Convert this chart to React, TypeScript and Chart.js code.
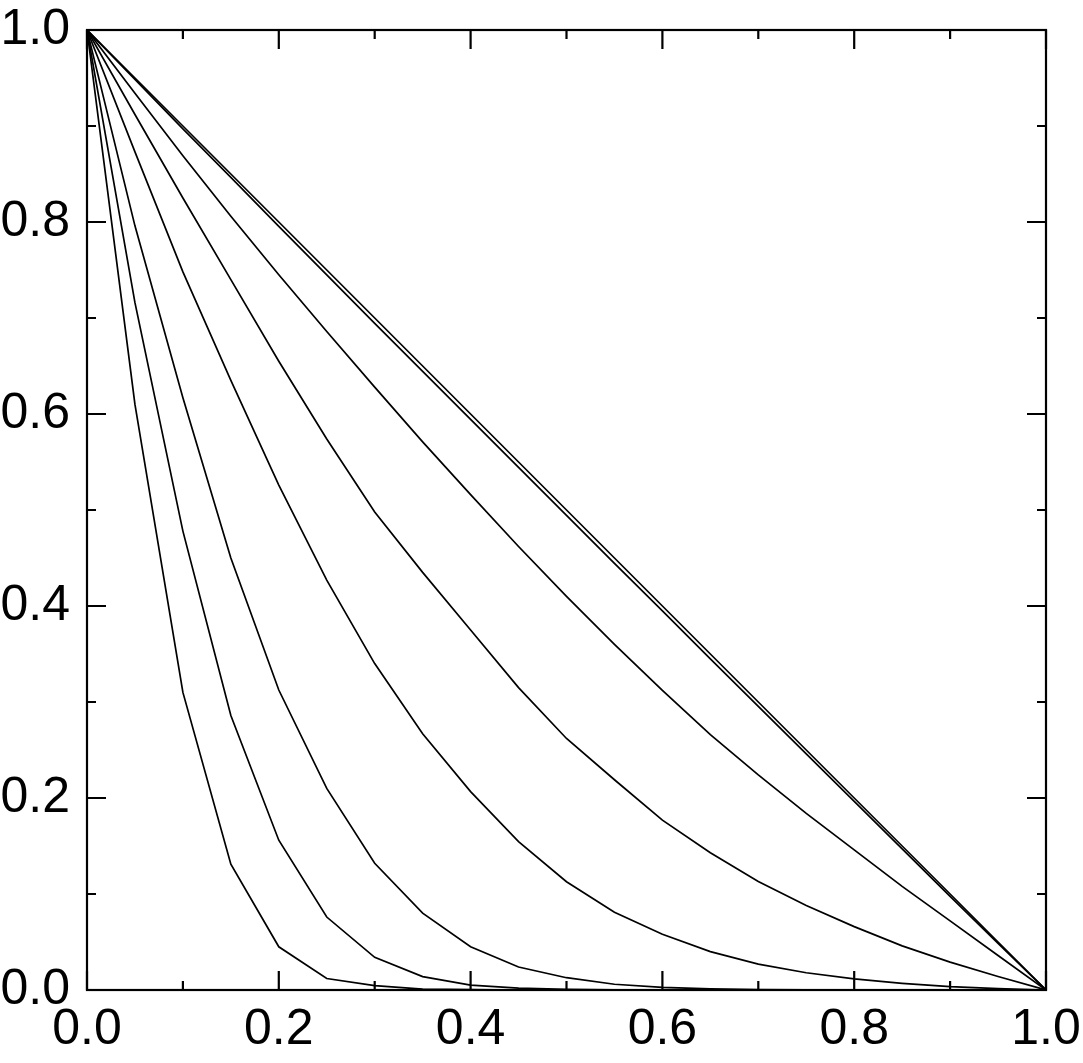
import React, { useEffect, useRef } from "react";
import { Chart, registerables } from "chart.js";

Chart.register(...registerables);

const xValues = [0, 0.05, 0.1, 0.15, 0.2, 0.25, 0.3, 0.35, 0.4, 0.45, 0.5, 0.55, 0.6, 0.65, 0.7, 0.75, 0.8, 0.85, 0.9, 0.95, 1.0];

const curveA = [1, 0.61, 0.31, 0.131, 0.045, 0.012, 0.0045, 0.001, 0.0003, 0, 0, 0, 0, 0, 0, 0, 0, 0, 0, 0, 0];
const curveB = [1, 0.716, 0.478, 0.286, 0.156, 0.076, 0.034, 0.014, 0.005, 0.002, 0.0007, 0.0002, 0, 0, 0, 0, 0, 0, 0, 0, 0];
const curveC = [1, 0.796, 0.617, 0.45, 0.3125, 0.21, 0.132, 0.08, 0.045, 0.024, 0.0128, 0.006, 0.0028, 0.0012, 0.0005, 0.0002, 0.0001, 0, 0, 0, 0];
const curveD = [1, 0.873, 0.748, 0.635, 0.526, 0.427, 0.34, 0.267, 0.2066, 0.1545, 0.1128, 0.081, 0.058, 0.04, 0.027, 0.018, 0.0115, 0.007, 0.0035, 0.0015, 0];
const curveE = [1, 0.912, 0.825, 0.74, 0.655, 0.574, 0.498, 0.435, 0.375, 0.315, 0.262, 0.219, 0.177, 0.143, 0.113, 0.088, 0.066, 0.046, 0.029, 0.014, 0];
const curveF = [1, 0.934, 0.869, 0.806, 0.745, 0.686, 0.628, 0.571, 0.516, 0.462, 0.41, 0.36, 0.312, 0.266, 0.224, 0.184, 0.146, 0.108, 0.072, 0.036, 0];
const curveG = [1, 0.95, 0.9, 0.85, 0.8, 0.75, 0.7, 0.65, 0.6, 0.55, 0.5, 0.45, 0.4, 0.35, 0.3, 0.25, 0.2, 0.15, 0.1, 0.05, 0];
const curveH = [1, 0.9485, 0.897, 0.8465, 0.7955, 0.745, 0.6945, 0.6445, 0.5945, 0.5445, 0.4945, 0.4445, 0.395, 0.345, 0.2955, 0.246, 0.1965, 0.147, 0.0975, 0.0485, 0];

const curves = [curveA, curveB, curveC, curveD, curveE, curveF, curveG, curveH];

const axisTicks = [0, 0.2, 0.4, 0.6, 0.8, 1.0];
const minorTicks = [0.1, 0.3, 0.5, 0.7, 0.9];

const FONT = "'Liberation Sans', Arial, Helvetica, sans-serif";

const framePlugin = {
  id: "frameTicks",
  afterDatasetsDraw(chart: any) {
    const { ctx, chartArea, scales } = chart;
    const { left, right, top, bottom } = chartArea;
    ctx.save();
    ctx.strokeStyle = "#000";
    ctx.lineWidth = 2.2;
    ctx.lineCap = "butt";
    ctx.strokeRect(left, top, right - left, bottom - top);
    const drawTicks = (vals: number[], len: number) => {
      ctx.beginPath();
      for (const v of vals) {
        const px = scales.x.getPixelForValue(v);
        ctx.moveTo(px, bottom);
        ctx.lineTo(px, bottom - len);
        ctx.moveTo(px, top);
        ctx.lineTo(px, top + len);
        const py = scales.y.getPixelForValue(v);
        ctx.moveTo(left, py);
        ctx.lineTo(left + len, py);
        ctx.moveTo(right, py);
        ctx.lineTo(right - len, py);
      }
      ctx.stroke();
    };
    drawTicks(axisTicks, 19);
    drawTicks(minorTicks, 9);
    ctx.restore();
  },
};

const zeroPad = (s: any) => {
  s.paddingLeft = 0;
  s.paddingRight = 0;
  s.paddingTop = 0;
  s.paddingBottom = 0;
};

export default function App() {
  const ref = useRef<HTMLCanvasElement | null>(null);
  useEffect(() => {
    if (!ref.current) return;
    const datasets = curves.map((c) => ({
      data: xValues.map((x, i) => ({ x, y: c[i] })),
      borderColor: "#000",
      borderWidth: 1.7,
      pointRadius: 0,
      fill: false,
      tension: 0,
    }));
    const chart = new Chart(ref.current, {
      type: "line",
      data: { datasets },
      options: {
        animation: false,
        responsive: false,
        maintainAspectRatio: false,
        layout: { padding: { left: 0, top: 30, right: 37, bottom: 0 } },
        plugins: { legend: { display: false }, tooltip: { enabled: false } },
        scales: {
          x: {
            type: "linear",
            min: 0,
            max: 1,
            grid: { display: false, drawTicks: false },
            border: { display: false },
            afterBuildTicks: (s: any) => {
              s.ticks = axisTicks.map((v) => ({ value: v }));
            },
            afterFit: (s: any) => {
              s.height = 73;
              zeroPad(s);
            },
            ticks: {
              color: "#000",
              font: { family: FONT, size: 50 },
              padding: 10,
              maxRotation: 0,
              autoSkip: false,
              callback: (v: any) => Number(v).toFixed(1),
            },
          },
          y: {
            type: "linear",
            min: 0,
            max: 1,
            grid: { display: false, drawTicks: false },
            border: { display: false },
            afterBuildTicks: (s: any) => {
              s.ticks = axisTicks.map((v) => ({ value: v }));
            },
            afterFit: (s: any) => {
              s.width = 87;
              zeroPad(s);
            },
            ticks: {
              color: "#000",
              font: { family: FONT, size: 50 },
              padding: 17,
              autoSkip: false,
              callback: (v: any) => Number(v).toFixed(1),
            },
          },
        },
      },
      plugins: [framePlugin],
    });
    return () => chart.destroy();
  }, []);
  return (
    <div style={{ position: "absolute", left: 0, top: 0, width: 1083, height: 1063, background: "#fff" }}>
      <canvas ref={ref} width={1083} height={1063} style={{ width: 1083, height: 1063, display: "block" }} />
    </div>
  );
}
